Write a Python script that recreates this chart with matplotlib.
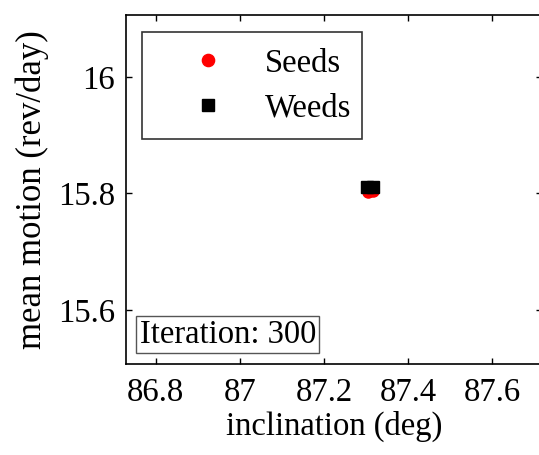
import matplotlib
matplotlib.use("Agg")
import matplotlib.pyplot as plt

plt.rcParams['font.family'] = ['Liberation Serif', 'DejaVu Serif']

# data
seeds_incl = [87.306, 87.318]
seeds_mm = [15.803, 15.804]
weeds_incl = [87.302, 87.316]
weeds_mm = [15.811, 15.811]

xticks = [86.8, 87.0, 87.2, 87.4, 87.6]
xticklabels = ['86.8', '87', '87.2', '87.4', '87.6']
yticks = [15.6, 15.8, 16.0]
yticklabels = ['15.6', '15.8', '16']

fs = 23.5

fig = plt.figure(figsize=(5.39, 4.55), dpi=100)
ax = fig.add_axes([126/539, 91/455, 416/539, 349/455])

ax.plot(seeds_incl, seeds_mm, 'o', color='red', ms=8, mec='red', label='Seeds')
ax.plot(weeds_incl, weeds_mm, 's', color='black', ms=8, label='Weeds')

ax.set_xlim(86.729, 87.719)
ax.set_ylim(15.507, 16.106)
ax.set_xticks(xticks)
ax.set_xticklabels(xticklabels)
ax.set_yticks(yticks)
ax.set_yticklabels(yticklabels)
ax.tick_params(direction='in', top=True, right=True, length=4, width=1,
               labelsize=fs)
ax.tick_params(axis='y', pad=8)
ax.tick_params(axis='x', pad=10)
for s in ax.spines.values():
    s.set_linewidth(1.2)

ax.set_xlabel('inclination (deg)', fontsize=fs, labelpad=2)
ax.set_ylabel('mean motion (rev/day)', fontsize=25, labelpad=6)

leg = ax.legend(loc='upper left', bbox_to_anchor=(0.039, 0.951, 0.528, 0.0),
                mode='expand', borderaxespad=0, fontsize=fs, frameon=True,
                fancybox=False, edgecolor='black', handletextpad=0.25,
                handlelength=3.0, borderpad=0.5, labelspacing=0.42,
                markerscale=1.1)
leg.get_frame().set_linewidth(1.2)

ax.text(0.033, 0.04, 'Iteration: 300', transform=ax.transAxes, fontsize=fs,
        ha='left', va='bottom',
        bbox=dict(boxstyle='square,pad=0.1', fc='white', ec='#555555', lw=1))

fig.savefig('out.png', dpi=100)
